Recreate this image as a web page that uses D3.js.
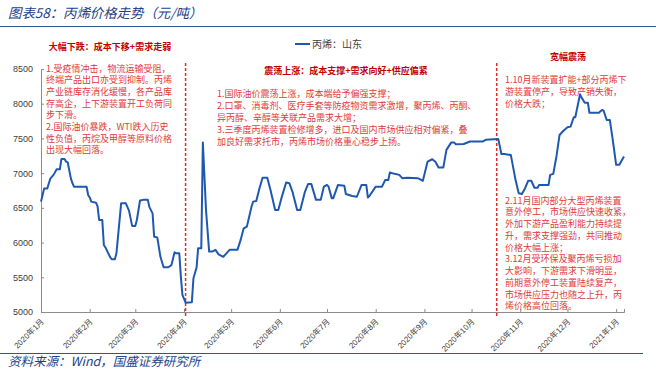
<!DOCTYPE html>
<html><head><meta charset="utf-8">
<script src="https://cdn.jsdelivr.net/npm/d3@7"></script>
<style>
html,body{margin:0;padding:0;background:#fff;}
svg{display:block;}
</style></head>
<body>
<script>
// ---------- data ----------
const seriesName = "丙烯：山东";
const dates = ["2020-01-01","2020-01-03","2020-01-05","2020-01-06","2020-01-07","2020-01-09","2020-01-11","2020-01-13","2020-01-14","2020-01-16","2020-01-17","2020-01-18","2020-01-20","2020-01-21","2020-01-22","2020-01-30","2020-01-31","2020-02-01","2020-02-02","2020-02-05","2020-02-06","2020-02-07","2020-02-09","2020-02-10","2020-02-11","2020-02-14","2020-02-15","2020-02-17","2020-02-18","2020-02-21","2020-02-24","2020-02-26","2020-02-28","2020-03-01","2020-03-02","2020-03-04","2020-03-06","2020-03-09","2020-03-10","2020-03-12","2020-03-13","2020-03-15","2020-03-17","2020-03-19","2020-03-22","2020-03-24","2020-03-26","2020-03-27","2020-03-29","2020-03-30","2020-03-31","2020-04-02","2020-04-06","2020-04-07","2020-04-09","2020-04-10","2020-04-12","2020-04-13","2020-04-15","2020-04-17","2020-04-19","2020-04-21","2020-04-23","2020-04-26","2020-04-28","2020-04-30","2020-05-05","2020-05-07","2020-05-09","2020-05-11","2020-05-14","2020-05-15","2020-05-17","2020-05-19","2020-05-21","2020-05-24","2020-05-26","2020-05-29","2020-05-31","2020-06-02","2020-06-05","2020-06-07","2020-06-09","2020-06-12","2020-06-14","2020-06-17","2020-06-19","2020-06-21","2020-06-24","2020-06-27","2020-06-29","2020-07-01","2020-07-02","2020-07-04","2020-07-05","2020-07-08","2020-07-12","2020-07-13","2020-07-17","2020-07-20","2020-07-23","2020-07-26","2020-07-27","2020-07-28","2020-08-01","2020-08-05","2020-08-07","2020-08-09","2020-08-10","2020-08-13","2020-08-16","2020-08-18","2020-08-21","2020-08-28","2020-08-29","2020-08-31","2020-09-03","2020-09-06","2020-09-08","2020-09-10","2020-09-13","2020-09-15","2020-09-18","2020-09-20","2020-09-21","2020-09-26","2020-09-30","2020-10-08","2020-10-10","2020-10-18","2020-10-20","2020-10-22","2020-10-26","2020-10-29","2020-10-31","2020-11-02","2020-11-04","2020-11-06","2020-11-08","2020-11-10","2020-11-12","2020-11-13","2020-11-19","2020-11-20","2020-11-22","2020-11-24","2020-11-26","2020-11-28","2020-12-01","2020-12-03","2020-12-05","2020-12-06","2020-12-09","2020-12-10","2020-12-12","2020-12-14","2020-12-15","2020-12-21","2020-12-23","2020-12-24","2020-12-26","2020-12-28","2020-12-30","2021-01-01","2021-01-03","2021-01-06"];
const prices = [6590,6780,6780,6855,6925,6975,7055,7055,7205,7205,7165,7155,6925,6855,6805,6805,6685,6650,6590,6575,6520,6325,6325,5965,5930,5790,5760,5760,5845,6565,6565,6460,6240,6240,6325,6605,6615,6615,6510,6420,6085,6075,5795,5645,5645,5675,5860,5845,5845,5510,5245,5135,5140,5485,5640,5920,5920,7440,6470,5870,5870,5895,5830,5795,5845,5895,5895,6035,6205,6230,6520,6590,6600,6780,6935,6935,6760,6470,6470,6640,6865,6855,6735,6470,6470,6735,6845,6845,6615,6615,6805,6830,6805,6640,6640,6830,6820,6700,6670,6660,6830,6830,6650,6670,6805,6805,6900,6900,7010,6990,6975,6925,6935,6925,6915,6890,7165,7200,7165,7080,7080,7335,7440,7440,7415,7420,7455,7455,7480,7490,7275,7275,7260,6900,6710,6700,6780,6890,6890,6790,6790,6830,6830,6975,6990,7240,7550,7600,7660,7670,7805,7805,8135,8090,8015,8015,7870,7870,7910,7900,7765,7765,7455,7120,7120,7240];
const yTicks = [5000,5500,6000,6500,7000,7500,8000,8500];
const xTickDates = ["2020-01-01","2020-02-01","2020-03-01","2020-04-01","2020-05-01","2020-06-01","2020-07-01","2020-08-01","2020-09-01","2020-10-01","2020-11-01","2020-12-01","2021-01-01"];
const xTickLabels = ["2020年1月","2020年2月","2020年3月","2020年4月","2020年5月","2020年6月","2020年7月","2020年8月","2020年9月","2020年10月","2020年11月","2020年12月","2021年1月"];
const phaseDates = ["2020-04-02","2020-10-17"];
const phaseTitles = ["大幅下跌：成本下移+需求走弱","震荡上涨：成本支撑+需求向好+供应偏紧","宽幅震荡"];
const noteLeft = ["1.受疫情冲击，物流运输受阻，","终端产品出口亦受到抑制。丙烯","产业链库存消化缓慢，各产品库","存高企，上下游装置开工负荷同","步下滑。","2.国际油价暴跌，WTI跌入历史","性负值，丙烷及甲醇等原料价格","出现大幅回落。"];
const noteMid = ["1.国际油价震荡上涨，成本端给予偏强支撑；","2.口罩、消毒剂、医疗手套等防疫物资需求激增，聚丙烯、丙酮、","异丙醇、辛醇等关联产品需求大增；","3.三季度丙烯装置检修增多，进口及国内市场供应相对偏紧，叠","加良好需求托市，丙烯市场价格重心稳步上扬。"];
const noteRightTop = ["1.10月新装置扩能+部分丙烯下","游装置停产，导致产销失衡，","价格大跌；"];
const noteRightBottom = ["2.11月国内部分大型丙烯装置","意外停工，市场供应快速收紧，","外加下游产品盈利能力持续提","升，需求支撑强劲，共同推动","价格大幅上涨；","3.12月受环保及聚丙烯亏损加","大影响，下游需求下滑明显，","前期意外停工装置陆续复产，","市场供应压力也随之上升，丙","烯价格高位回落。"];
const titleText = "图表58：丙烯价格走势（元/吨）";
const sourceText = "资料来源：Wind，国盛证券研究所";

// ---------- chart ----------
const W = 656, H = 369;
const parse = d3.timeParse("%Y-%m-%d");
const data = dates.map((d,i)=>({date:parse(d), v:prices[i]}));
const svg = d3.select("body").append("svg").attr("width",W).attr("height",H);

const x = d3.scaleTime().domain([parse("2020-01-01"), parse("2021-01-06")]).range([41,624]);
const y = d3.scaleLinear().domain([5000,8500]).range([312,69]);

const cjk = "'Noto Sans CJK SC','Noto Sans',sans-serif";

// title
svg.append("text").attr("x",8).attr("y",18).text(titleText)
  .attr("font-family",cjk).attr("font-size",13.4).attr("font-style","italic").attr("fill","#23428a");
svg.append("line").attr("x1",0).attr("x2",656).attr("y1",26.5).attr("y2",26.5).attr("stroke","#2f5597").attr("stroke-width",1.2);

// footer
svg.append("line").attr("x1",0).attr("x2",643).attr("y1",353.5).attr("y2",353.5).attr("stroke","#2f5597").attr("stroke-width",1.2);
svg.append("text").attr("x",8).attr("y",366).text(sourceText)
  .attr("font-family",cjk).attr("font-size",12.5).attr("font-style","italic").attr("fill","#23428a");

// y axis
const yAxis = svg.append("g").attr("transform","translate(41,0)")
  .call(d3.axisLeft(y).tickValues(yTicks).tickSize(-3).tickPadding(8).tickFormat(d3.format("d")));
yAxis.select(".domain").attr("stroke","#8c8c8c");
yAxis.selectAll(".tick line").attr("stroke","#8c8c8c");
yAxis.selectAll("text").attr("font-family","'Liberation Sans',Arial,sans-serif").attr("font-size",9).attr("fill","#404040");

// x axis
const xAxis = svg.append("g").attr("transform","translate(0,312)")
  .call(d3.axisBottom(x).tickValues(xTickDates.map(parse)).tickSize(-3).tickFormat((d,i)=>xTickLabels[i]));
xAxis.select(".domain").attr("stroke","#8c8c8c");
xAxis.selectAll(".tick line").attr("stroke","#8c8c8c");
xAxis.selectAll("text")
  .attr("font-family","'Liberation Sans','Noto Sans CJK SC',sans-serif").attr("font-size",8).attr("fill","#404040")
  .attr("text-anchor","end").attr("dy",null).attr("y",null)
  .attr("transform","translate(3,10) rotate(-45)");

// phase dashed lines
svg.selectAll(".phase").data(phaseDates).enter().append("line")
  .attr("x1",d=>x(parse(d))).attr("x2",d=>x(parse(d)))
  .attr("y1",63).attr("y2",318)
  .attr("stroke","#e02b2b").attr("stroke-width",1.5).attr("stroke-dasharray","3,2");

// line
svg.append("path").datum(data)
  .attr("d", d3.line().x(d=>x(d.date)).y(d=>y(d.v)))
  .attr("fill","none").attr("stroke","#1f58b0").attr("stroke-width",2).attr("stroke-linejoin","round");

// legend
svg.append("line").attr("x1",295).attr("x2",310).attr("y1",44).attr("y2",44).attr("stroke","#1f58b0").attr("stroke-width",2);
svg.append("text").attr("x",312).attr("y",47.5).text(seriesName)
  .attr("font-family",cjk).attr("font-size",10).attr("fill","#404040");

// phase titles
const titlePos = [[110,50],[346,74],[568,60]];
phaseTitles.forEach((t,i)=>{
  svg.append("text").attr("x",titlePos[i][0]).attr("y",titlePos[i][1]).text(t)
    .attr("text-anchor","middle").attr("font-family",cjk).attr("font-size",9).attr("font-weight","bold").attr("fill","#c00000");
});

// notes
function block(lines, x0, y0, lh){
  svg.append("g").selectAll("text").data(lines).enter().append("text")
    .attr("x",x0).attr("y",(d,i)=>y0+i*lh).text(d=>d)
    .attr("font-family",cjk).attr("font-size",9).attr("fill","#e03a3a");
}
block(noteLeft, 46, 71.5, 11.7);
block(noteMid, 217, 96.5, 12.2);
block(noteRightTop, 505, 83, 11.8);
block(noteRightBottom, 505, 203.5, 11.75);
</script>
</body></html>
